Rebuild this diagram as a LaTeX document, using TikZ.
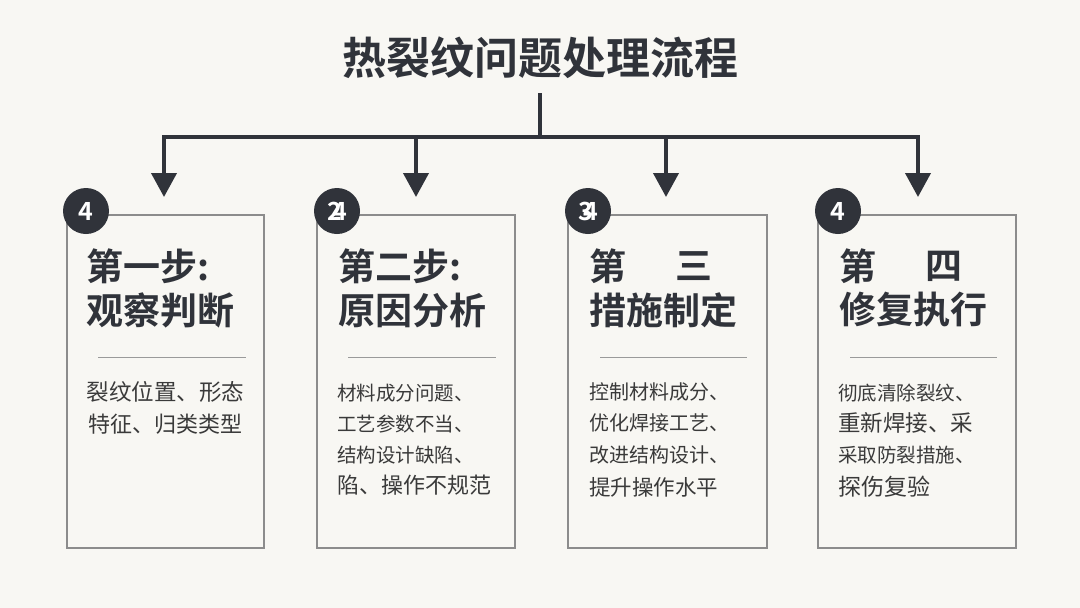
\documentclass[tikz,border=0pt]{standalone}
\usepackage{fontspec}
\usetikzlibrary{arrows.meta}
\setmainfont{Noto Sans}
\newfontfamily\cjk{Noto Sans CJK SC}
\newfontfamily\cjkb{Noto Sans CJK SC}[BoldFont={* Bold}]
\definecolor{bg}{HTML}{F8F7F3}
\definecolor{ink}{HTML}{30333A}
\definecolor{txt}{HTML}{3A3A3A}
\definecolor{frame}{HTML}{8C8C8C}
\definecolor{sep}{HTML}{9A9A9A}
\tikzset{
  conn/.style={draw=ink, line width=4pt},
  arrowc/.style={draw=ink, line width=4pt, -{Triangle[length=24pt,width=25pt]}},
  card/.style={draw=frame, line width=1.6pt, fill=bg},
  badge/.style={circle, fill=ink, minimum size=46pt, inner sep=0pt, text=white, font=\cjkb\bfseries\fontsize{25}{25}\selectfont},
  head/.style={anchor=west, inner sep=0pt, text=ink, font=\cjkb\bfseries\fontsize{37}{37}\selectfont},
  body/.style={anchor=west, inner sep=0pt, text=txt},
  sepline/.style={draw=sep, line width=0.8pt},
}
\begin{document}
\begin{tikzpicture}[x=1pt,y=-1pt]
\useasboundingbox (0,0) rectangle (1080,608);
\fill[bg] (0,0) rectangle (1080,608);

% title
\node[inner sep=0pt, text=ink, font=\cjkb\bfseries\fontsize{44}{44}\selectfont] (title) at (540,58) {热裂纹问题处理流程};

% connectors
\coordinate (t) at (540,93);
\coordinate (hub) at (540,137);
\coordinate (j1) at (164,137);
\coordinate (j2) at (416,137);
\coordinate (j3) at (666,137);
\coordinate (j4) at (918,137);
\coordinate (a1) at (164,197);
\coordinate (a2) at (416,197);
\coordinate (a3) at (666,197);
\coordinate (a4) at (918,197);
\draw[conn] (t) -- (hub);
\draw[conn] ([xshift=-2pt]j1) -- ([xshift=2pt]j4);
\draw[arrowc] (j1) -- (a1);
\draw[arrowc] (j2) -- (a2);
\draw[arrowc] (j3) -- (a3);
\draw[arrowc] (j4) -- (a4);

% cards
\draw[card] (67,215) rectangle (264,548);
\draw[card] (317,215) rectangle (515,548);
\draw[card] (568,215) rectangle (767,548);
\draw[card] (818,215) rectangle (1016,548);

% badges
\node[badge] (b1) at (86,211) {4};
\node[badge] (b2) at (337,211) {2\kern-0.4em4};
\node[badge] (b3) at (588,211) {3\kern-0.4em4};
\node[badge] (b4) at (838,211) {4};

% headings
\node[head] (h1a) at (86,266) {第一步:};
\node[head] (h1b) at (86,310) {观察判断};
\node[head] (h2a) at (338,266) {第二步:};
\node[head] (h2b) at (338,310) {原因分析};
\node[head] (h3a) at (589,266) {第};
\node[head] (h3c) at (675,266) {三};
\node[head] (h3b) at (589,310) {措施制定};
\node[head] (h4a) at (839,266) {第};
\node[head] (h4c) at (925,266) {四};
\node[head] (h4b) at (839,310) {修复执行};

% separators
\draw[sepline] (98,357) -- (246,357);
\draw[sepline] (348,357) -- (496,357);
\draw[sepline] (600,357) -- (747,357);
\draw[sepline] (850,357) -- (997,357);

% body texts
\node[body, anchor=center, font=\cjk\fontsize{22.5}{22}\selectfont] (c1a) at (165.5,392) {裂纹位置、形态};
\node[body, anchor=center, font=\cjk\fontsize{22}{22}\selectfont] (c1b) at (165.5,424) {特征、归类类型};

\node[body, font=\cjk\fontsize{19.5}{20}\selectfont] (c2a) at (337,393) {材料成分问题、};
\node[body, font=\cjk\fontsize{19.5}{20}\selectfont] (c2b) at (337,424) {工艺参数不当、};
\node[body, font=\cjk\fontsize{19.5}{20}\selectfont] (c2c) at (337,455) {结构设计缺陷、};
\node[body, font=\cjk\fontsize{22}{22}\selectfont] (c2d) at (337,485) {陷、操作不规范};

\node[body, font=\cjk\fontsize{20}{20}\selectfont] (c3a) at (589,392) {控制材料成分、};
\node[body, font=\cjk\fontsize{20}{20}\selectfont] (c3b) at (589,423) {优化焊接工艺、};
\node[body, font=\cjk\fontsize{20}{20}\selectfont] (c3c) at (589,455) {改进结构设计、};
\node[body, font=\cjk\fontsize{21.5}{22}\selectfont] (c3d) at (589,487) {提升操作水平};

\node[body, font=\cjk\fontsize{19.5}{20}\selectfont] (c4a) at (838,393) {彻底清除裂纹、};
\node[body, font=\cjk\fontsize{22.5}{23}\selectfont] (c4b) at (838,423) {重新焊接、采};
\node[body, font=\cjk\fontsize{19.5}{20}\selectfont] (c4c) at (838,455) {采取防裂措施、};
\node[body, font=\cjk\fontsize{23}{23}\selectfont] (c4d) at (838,487) {探伤复验};
\end{tikzpicture}
\end{document}
